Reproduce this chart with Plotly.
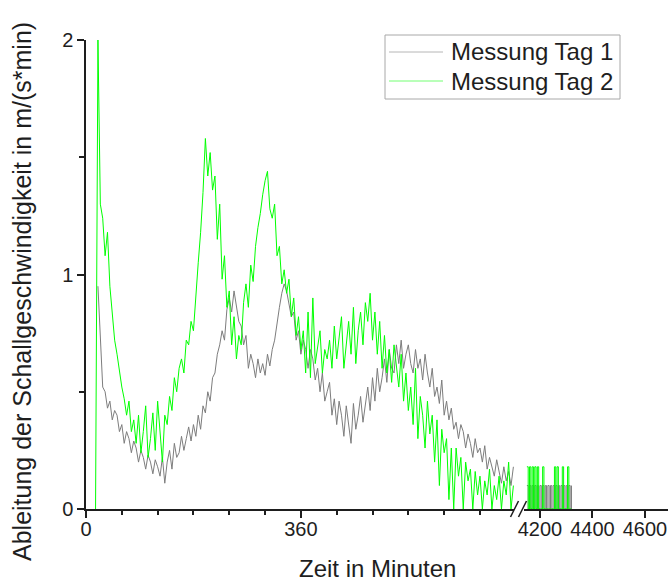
import numpy as np
import plotly.graph_objects as go

# Zeitraster in Minuten
zeit_tag1 = np.arange(20, 717, 4)
zeit_tag2 = np.arange(16, 717, 4)
zeit_spaet = np.arange(4150, 4321, 5)

# Ableitung der Schallgeschwindigkeit, Messung Tag 1 (m/(s*min))
abl_tag1 = [
    0.95, 0.70, 0.52, 0.50, 0.43, 0.46, 0.38, 0.42, 0.40, 0.33,
    0.36, 0.28, 0.33, 0.30, 0.24, 0.29, 0.26, 0.20, 0.25, 0.22,
    0.17, 0.23, 0.20, 0.15, 0.21, 0.18, 0.14, 0.22, 0.11, 0.20,
    0.25, 0.17, 0.28, 0.22, 0.24, 0.31, 0.25, 0.30, 0.35, 0.29,
    0.36, 0.31, 0.40, 0.34, 0.44, 0.41, 0.50, 0.46, 0.56, 0.58,
    0.66, 0.70, 0.76, 0.72, 0.85, 0.90, 0.84, 0.93, 0.87, 0.80,
    0.78, 0.70, 0.74, 0.60, 0.66, 0.62, 0.56, 0.64, 0.58, 0.62,
    0.57, 0.66, 0.61, 0.68, 0.72, 0.80, 0.86, 0.92, 0.96, 0.93,
    0.88, 0.82, 0.84, 0.72, 0.76, 0.66, 0.72, 0.68, 0.60, 0.68,
    0.64, 0.55, 0.60, 0.50, 0.58, 0.46, 0.50, 0.54, 0.40, 0.47,
    0.36, 0.46, 0.40, 0.31, 0.44, 0.36, 0.28, 0.45, 0.34, 0.40,
    0.48, 0.37, 0.44, 0.52, 0.42, 0.56, 0.46, 0.60, 0.50, 0.56,
    0.64, 0.54, 0.68, 0.60, 0.58, 0.70, 0.62, 0.72, 0.60, 0.66,
    0.70, 0.62, 0.58, 0.68, 0.60, 0.64, 0.55, 0.66, 0.58, 0.52,
    0.60, 0.48, 0.52, 0.45, 0.55, 0.40, 0.46, 0.38, 0.43, 0.34,
    0.37, 0.30, 0.36, 0.33, 0.26, 0.32, 0.28, 0.22, 0.30, 0.24,
    0.26, 0.20, 0.27, 0.17, 0.22, 0.18, 0.14, 0.21, 0.16, 0.11,
    0.18, 0.12, 0.16, 0.10, 0.18,
]

# Ableitung der Schallgeschwindigkeit, Messung Tag 2 (m/(s*min))
abl_tag2 = [
    0.00, 2.00, 1.30, 1.24, 1.08, 1.18, 0.95, 0.84, 0.72, 0.66,
    0.58, 0.52, 0.47, 0.40, 0.46, 0.33, 0.38, 0.28, 0.40, 0.24,
    0.33, 0.44, 0.22, 0.30, 0.41, 0.25, 0.46, 0.32, 0.20, 0.40,
    0.36, 0.48, 0.42, 0.56, 0.50, 0.60, 0.64, 0.58, 0.72, 0.70,
    0.80, 0.76, 0.92, 1.05, 1.18, 1.35, 1.58, 1.42, 1.52, 1.36,
    1.42, 1.15, 1.30, 0.98, 1.08, 0.86, 0.93, 0.70, 0.82, 0.64,
    0.74, 0.70, 0.88, 0.96, 0.86, 1.04, 0.97, 1.12, 1.20, 1.26,
    1.34, 1.40, 1.44, 1.28, 1.24, 1.30, 1.08, 1.12, 0.96, 1.02,
    0.92, 0.98, 0.82, 0.90, 0.74, 0.82, 0.68, 0.76, 0.58, 0.84,
    0.56, 0.90, 0.62, 0.70, 0.76, 0.58, 0.68, 0.64, 0.72, 0.60,
    0.78, 0.64, 0.74, 0.82, 0.60, 0.70, 0.80, 0.66, 0.86, 0.62,
    0.76, 0.84, 0.70, 0.88, 0.80, 0.92, 0.72, 0.84, 0.66, 0.80,
    0.60, 0.74, 0.58, 0.68, 0.54, 0.70, 0.62, 0.52, 0.66, 0.46,
    0.58, 0.42, 0.52, 0.36, 0.60, 0.30, 0.48, 0.40, 0.26, 0.46,
    0.32, 0.40, 0.20, 0.38, 0.10, 0.34, 0.24, 0.30, 0.04, 0.26,
    0.00, 0.26, 0.14, 0.22, 0.00, 0.20, 0.12, 0.17, 0.00, 0.16,
    0.06, 0.14, 0.00, 0.12, 0.06, 0.17, 0.00, 0.10, 0.04, 0.14,
    0.00, 0.12, 0.06, 0.20, 0.00, 0.10,
]

# Späte Messpunkte nach der Achsenunterbrechung
abl_tag1_spaet = [
    0.10, 0.00, 0.10, 0.00, 0.10, 0.00, 0.10, 0.00, 0.10, 0.00,
    0.10, 0.00, 0.10, 0.00, 0.10, 0.00, 0.10, 0.00, 0.10, 0.00,
    0.10, 0.00, 0.10, 0.00, 0.10, 0.00, 0.10, 0.00, 0.10, 0.00,
    0.10, 0.00, 0.10, 0.00, 0.10,
]
abl_tag2_spaet = [
    0.18, 0.00, 0.18, 0.00, 0.18, 0.00, 0.18, 0.00, 0.18, 0.00,
    0.00, 0.00, 0.18, 0.00, 0.00, 0.00, 0.00, 0.00, 0.00, 0.00,
    0.00, 0.18, 0.00, 0.18, 0.00, 0.00, 0.00, 0.18, 0.00, 0.00,
    0.00, 0.18, 0.00, 0.00, 0.00,
]

serien = ["Messung Tag 1", "Messung Tag 2"]

FARBE_TAG1 = "rgb(125,125,125)"
FARBE_TAG2 = "rgb(0,255,0)"
SCHRIFT = "Arial, Liberation Sans, sans-serif"
TEXT = "#1e1e1e"

W, H = 668, 581
M_L, M_R, M_T, M_B = 86, 0, 40, 72
plot_w = W - M_L - M_R
plot_h = H - M_T - M_B


def px_x(p):
    """Pixelspalte -> Papierkoordinate"""
    return (p - M_L) / plot_w


def px_y(p):
    """Pixelzeile -> Papierkoordinate"""
    return ((H - M_B) - p) / plot_h


# Grenzen der beiden x-Abschnitte
links_ende = px_x(514)
rechts_start = px_x(524)

fig = go.Figure()
for zeit, werte, farbe, name in ((zeit_tag1, abl_tag1, FARBE_TAG1, serien[0]),
                                 (zeit_tag2, abl_tag2, FARBE_TAG2, serien[1])):
    fig.add_trace(go.Scatter(x=zeit, y=werte, mode="lines", name=name,
                             line=dict(color=farbe, width=1),
                             xaxis="x", yaxis="y", showlegend=False))
for werte, farbe, name in ((abl_tag1_spaet, FARBE_TAG1, serien[0]),
                           (abl_tag2_spaet, FARBE_TAG2, serien[1])):
    fig.add_trace(go.Scatter(x=zeit_spaet, y=werte, mode="lines", name=name,
                             line=dict(color=farbe, width=1, shape="hv"),
                             xaxis="x2", yaxis="y", showlegend=False))

achse = dict(showline=True, linecolor=TEXT, linewidth=1.5, ticks="outside",
             tickcolor=TEXT, tickwidth=1.5, ticklen=7, showgrid=False, zeroline=False,
             tickfont=dict(family=SCHRIFT, size=20, color=TEXT))

fig.update_layout(
    width=W, height=H,
    margin=dict(l=M_L, r=M_R, t=M_T, b=M_B),
    paper_bgcolor="white", plot_bgcolor="white",
    showlegend=False,
    xaxis=dict(domain=[0, links_ende], range=[0, 717], tickmode="array",
               tickvals=[0, 360], ticktext=["0", "360"], ticklabelstandoff=-6,
               minor=dict(ticks="outside", ticklen=4, tickwidth=1.5, tickcolor=TEXT,
                          tick0=0, dtick=60, showgrid=False),
               anchor="y", **achse),
    xaxis2=dict(domain=[rechts_start, 1], range=[4139, 4688], tickmode="array",
                tickvals=[4200, 4400, 4600], ticklabelstandoff=-6, anchor="y", **achse),
    yaxis=dict(domain=[0, 1], range=[0, 2], tickmode="array", tickvals=[0, 1, 2],
               minor=dict(ticks="outside", ticklen=5, tickwidth=1.5, tickcolor=TEXT,
                          tick0=0, dtick=0.5, showgrid=False),
               **achse),
)

# Legende mit Rahmen
fig.add_shape(type="rect", xref="paper", yref="paper",
              x0=px_x(385), x1=px_x(620), y0=px_y(99), y1=px_y(35),
              fillcolor="white", line=dict(color="#a8a8a8", width=1), layer="above")
for i, (name, farbe) in enumerate(zip(serien, (FARBE_TAG1, FARBE_TAG2))):
    zeile = 52 + 29 * i
    fig.add_shape(type="line", xref="paper", yref="paper",
                  x0=px_x(389), x1=px_x(443), y0=px_y(zeile), y1=px_y(zeile),
                  line=dict(color=farbe, width=1), opacity=0.55, layer="above")
    fig.add_annotation(text=name, xref="paper", yref="paper",
                       x=px_x(449), y=px_y(zeile), xanchor="left", yanchor="middle",
                       showarrow=False,
                       font=dict(family=SCHRIFT, size=24, color=TEXT))

# Achsentitel
fig.add_annotation(text="Zeit in Minuten", xref="paper", yref="paper",
                   x=px_x(377), y=px_y(568),
                   xanchor="center", yanchor="middle", showarrow=False,
                   font=dict(family=SCHRIFT, size=24, color=TEXT))
fig.add_annotation(text="Ableitung der Schallgeschwindigkeit in m/(s*min)",
                   xref="paper", yref="paper",
                   x=px_x(22), y=px_y(292),
                   xanchor="center", yanchor="middle", textangle=-90, showarrow=False,
                   font=dict(family=SCHRIFT, size=25, color=TEXT))

# Unterbrechungszeichen "//" auf der x-Achse
dx = 4 / plot_w
dy = 8 / plot_h
for xm in (links_ende + 0.5 / plot_w, rechts_start - 1.5 / plot_w):
    fig.add_shape(type="line", xref="paper", yref="paper",
                  x0=xm - dx, y0=-dy, x1=xm + dx, y1=dy,
                  line=dict(color=TEXT, width=1.5))

fig.write_html("out.html")
